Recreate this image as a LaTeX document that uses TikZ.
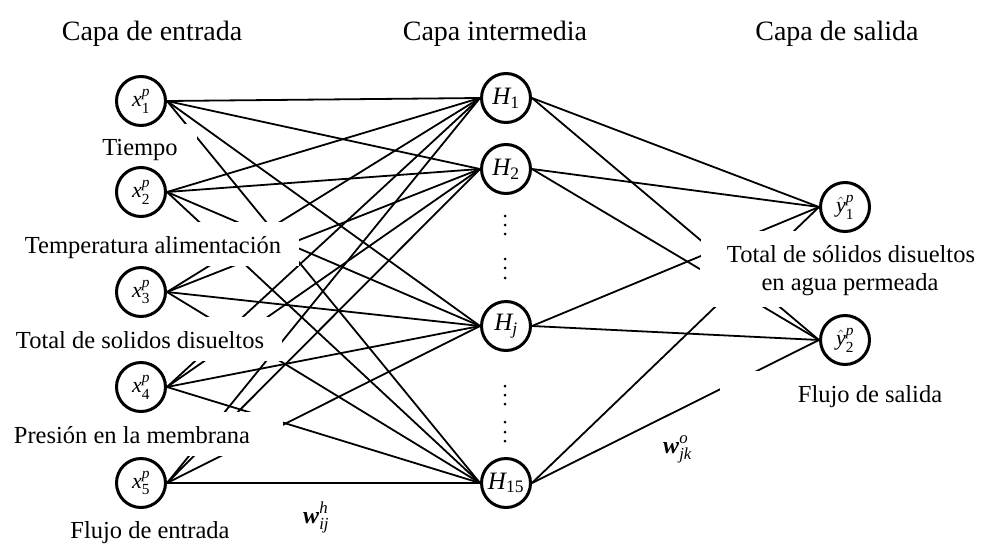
\documentclass[tikz,border=0pt]{standalone}
\usepackage{fontspec}
\usepackage{amsmath}
\setmainfont{Liberation Serif}
\pgfdeclarelayer{fore}
\pgfsetlayers{main,fore}
\tikzset{
  neuron/.style={circle, draw, line width=3pt, minimum size=49pt, inner sep=0pt, fill=white,
    font=\fontsize{22}{24}\selectfont},
  hneuron/.style={neuron, font=\fontsize{25}{28}\selectfont},
  conn/.style={line width=1.8pt},
  lbl/.style={fill=white, anchor=base, font=\fontsize{24.5}{28}\selectfont,
    text height=24pt, text depth=6pt, inner ysep=7pt},
  plain/.style={anchor=base, font=\fontsize{24.5}{28}\selectfont, inner sep=0pt},
  layertitle/.style={anchor=base, font=\fontsize{28}{32}\selectfont, inner sep=0pt},
  wlbl/.style={anchor=base west, font=\fontsize{24}{28}\selectfont, inner sep=0pt},
}
\newcommand{\inx}[1]{$\textit{x}^{\textit{p}}_{\text{#1}}$}
\newcommand{\hid}[1]{$\textit{H}_{\text{#1}}$}
\newcommand{\outy}[1]{$\hat{\textit{y}}^{\textit{p}}_{\text{#1}}$}
\begin{document}
\begin{tikzpicture}[x=1pt,y=-1pt]
\useasboundingbox (0,0) rectangle (982,544);
\fill[white] (0,0) rectangle (982,544);

% neurons (top layer)
\begin{pgfonlayer}{fore}
\node[neuron] (x1) at (141,101) {\inx{1}};
\node[neuron] (x2) at (141,192) {\inx{2}};
\node[neuron] (x3) at (141,292) {\inx{3}};
\node[neuron] (x4) at (141,387) {\inx{4}};
\node[neuron] (x5) at (141,483) {\inx{5}};
\node[hneuron] (h1) at (506,98) {\hid{1}};
\node[hneuron] (h2) at (506,169) {\hid{2}};
\node[hneuron] (hj) at (506,326) {$\textit{H}_{\textit{j}}$};
\node[hneuron] (h15) at (506,483) {\hid{15}};
\node[neuron] (y1) at (845,207) {\outy{1}};
\node[neuron] (y2) at (845,340) {\outy{2}};
\end{pgfonlayer}

% connections input -> hidden
\foreach \i in {1,...,5}
  \foreach \h in {h1,h2,hj,h15}
    \draw[conn] (x\i.east) -- (\h.west);
% connections hidden -> output
\foreach \h in {h1,h2,hj,h15}
  \foreach \o in {y1,y2}
    \draw[conn] (\h.east) -- (\o.west);

% dots in hidden layer
\foreach \yy in {216,225,234,259,268,278,386,395,404,422,432,441}
  \fill (505,\yy) circle (1.5pt);

% titles
\node[layertitle] (t1) at (152,40) {Capa de entrada};
\node[layertitle] (t2) at (495,40) {Capa intermedia};
\node[layertitle] (t3) at (837,40) {Capa de salida};

% labels (white backgrounds mask lines)
\node[lbl, inner xsep=19pt] (l1) at (140,155) {Tiempo};
\node[lbl, inner xsep=18pt] (l2) at (153,253) {Temperatura alimentación};
\node[lbl, inner xsep=18pt] (l3) at (140,348) {Total de solidos disueltos};
\node[lbl, inner xsep=33pt] (l4) at (132,443) {Presión en la membrana};
\node[plain] (l5) at (150,538) {Flujo de entrada};
\node[lbl, inner xsep=26pt] (o1) at (851,262) {Total de sólidos disueltos};
\node[lbl, inner xsep=62pt, text height=18pt, text depth=10pt] (o2) at (850,290) {en agua permeada};
\node[lbl, inner xsep=78pt] (o3) at (870,402) {Flujo de salida};

% weight labels
\node[wlbl] (wh) at (303,523) {$\textbf{\textit{w}}^{\textit{h}}_{\textit{ij}}$};
\node[wlbl] (wo) at (663,453) {$\textbf{\textit{w}}^{\textit{o}}_{\textit{jk}}$};
\end{tikzpicture}
\end{document}
